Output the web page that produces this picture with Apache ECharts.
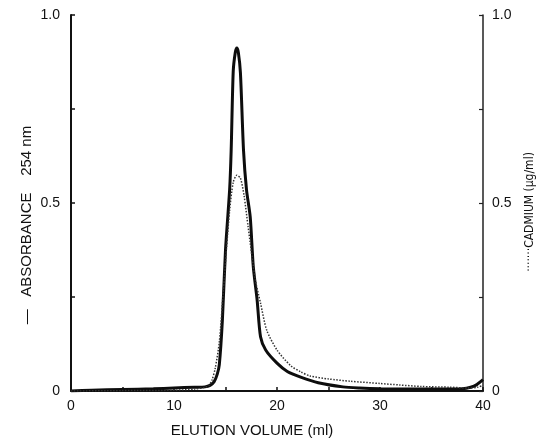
<!DOCTYPE html>
<html><head><meta charset="utf-8">
<script src="https://cdn.jsdelivr.net/npm/echarts@6/dist/echarts.min.js"></script>
<style>html,body{margin:0;padding:0;background:#fff}#c{width:546px;height:443px}</style>
</head><body><div id="c"></div>
<script>
// Absorbance 254 nm (solid)
const absX = [0, 2, 5, 8, 10, 12, 13, 13.5, 13.9, 14.2, 14.4, 14.7, 15.0, 15.4, 15.55, 15.75, 15.95, 16.1, 16.25, 16.45, 16.75, 17.04, 17.4, 17.7, 18.07, 18.4, 18.9, 20.0, 21.0, 22.3, 24.0, 26.4, 28.0, 30.0, 33.0, 36.0, 38.0, 38.8, 39.4, 40.0];
const absY = [0, 0.002, 0.004, 0.006, 0.008, 0.01, 0.011, 0.015, 0.025, 0.045, 0.07, 0.19, 0.375, 0.535, 0.64, 0.85, 0.9, 0.912, 0.9, 0.846, 0.64, 0.535, 0.463, 0.33, 0.242, 0.144, 0.109, 0.074, 0.052, 0.037, 0.022, 0.011, 0.008, 0.006, 0.005, 0.005, 0.006, 0.01, 0.017, 0.03];
// Cadmium ug/ml (dotted)
const cdX = [0, 5, 10, 12, 13, 13.4, 13.7, 14.0, 14.4, 14.8, 15.1, 15.4, 15.75, 16.1, 16.45, 16.8, 17.2, 17.9, 18.4, 19.0, 20.0, 21.3, 22.3, 23.2, 25.0, 27.1, 30.0, 31.9, 34.0, 36.8, 38.5, 39.5, 40.0];
const cdY = [0, 0.001, 0.002, 0.005, 0.01, 0.015, 0.03, 0.06, 0.13, 0.27, 0.38, 0.48, 0.555, 0.574, 0.566, 0.52, 0.436, 0.295, 0.234, 0.162, 0.109, 0.068, 0.051, 0.04, 0.032, 0.026, 0.02, 0.016, 0.012, 0.01, 0.008, 0.01, 0.015];
const xTickLabels = ['0', '10', '20', '30', '40'];
const yTickLabels = ['0', '0.5', '1.0'];

const pair = (xs, ys) => xs.map((x, i) => [x, ys[i]]);
const fontFam = "'Liberation Sans', Arial, sans-serif";
const yFmt = v => (Math.abs(v * 2 - Math.round(v * 2)) < 1e-6) ? yTickLabels[Math.round(v * 2)] : '';
const xFmt = v => (v % 10 === 0) ? xTickLabels[v / 10] : '';

const chart = echarts.init(document.getElementById('c'));
chart.setOption({
  animation: false,
  backgroundColor: '#fff',
  grid: { left: 71, right: 63, top: 15, bottom: 52 },
  xAxis: {
    type: 'value', min: 0, max: 40, interval: 5,
    axisLine: { lineStyle: { color: '#111', width: 2 } },
    axisTick: { inside: true, length: 4, lineStyle: { color: '#111', width: 1.5 } },
    axisLabel: { formatter: xFmt, color: '#111', fontSize: 14, fontFamily: fontFam, margin: 8 },
    splitLine: { show: false }
  },
  yAxis: [
    {
      type: 'value', min: 0, max: 1, interval: 0.25, position: 'left',
      axisLine: { show: true, lineStyle: { color: '#111', width: 2 } },
      axisTick: { show: true, inside: true, length: 4, lineStyle: { color: '#111', width: 1.5 } },
      axisLabel: { formatter: yFmt, color: '#111', fontSize: 14, fontFamily: fontFam, margin: 11 },
      splitLine: { show: false }
    },
    {
      type: 'value', min: 0, max: 1, interval: 0.25, position: 'right',
      axisLine: { show: true, lineStyle: { color: '#222', width: 1.5 } },
      axisTick: { show: true, inside: true, length: 4, lineStyle: { color: '#222', width: 1.2 } },
      axisLabel: { formatter: yFmt, color: '#111', fontSize: 14, fontFamily: fontFam, margin: 9 },
      splitLine: { show: false }
    }
  ],
  series: [
    {
      name: 'Absorbance', type: 'line', data: pair(absX, absY), yAxisIndex: 0,
      smooth: 0.25, showSymbol: false, symbol: 'none',
      lineStyle: { color: '#0d0d0d', width: 3 }
    },
    {
      name: 'Cadmium', type: 'line', data: pair(cdX, cdY), yAxisIndex: 1,
      smooth: 0.25, showSymbol: false, symbol: 'none',
      lineStyle: { color: '#333', width: 1.5, type: [1.5, 1.5] }
    }
  ],
  graphic: [
    {
      type: 'text', x: 252, y: 431,
      style: { text: 'ELUTION VOLUME (ml)', fill: '#111', font: "15px 'Liberation Sans', Arial, sans-serif", align: 'center', verticalAlign: 'middle' }
    },
    {
      type: 'text', x: 27, y: 225, rotation: Math.PI / 2,
      style: { text: '—   ABSORBANCE    254 nm', fill: '#111', font: "15px 'Liberation Sans', Arial, sans-serif", align: 'center', verticalAlign: 'middle' }
    },
    {
      type: 'text', x: 530, y: 212, rotation: Math.PI / 2,
      style: { text: '·······CADMIUM (µg/ml)', fill: '#111', font: "12px 'Liberation Sans Narrow', 'DejaVu Sans Condensed', 'Liberation Sans', sans-serif", align: 'center', verticalAlign: 'middle' }
    }
  ]
});
</script></body></html>
